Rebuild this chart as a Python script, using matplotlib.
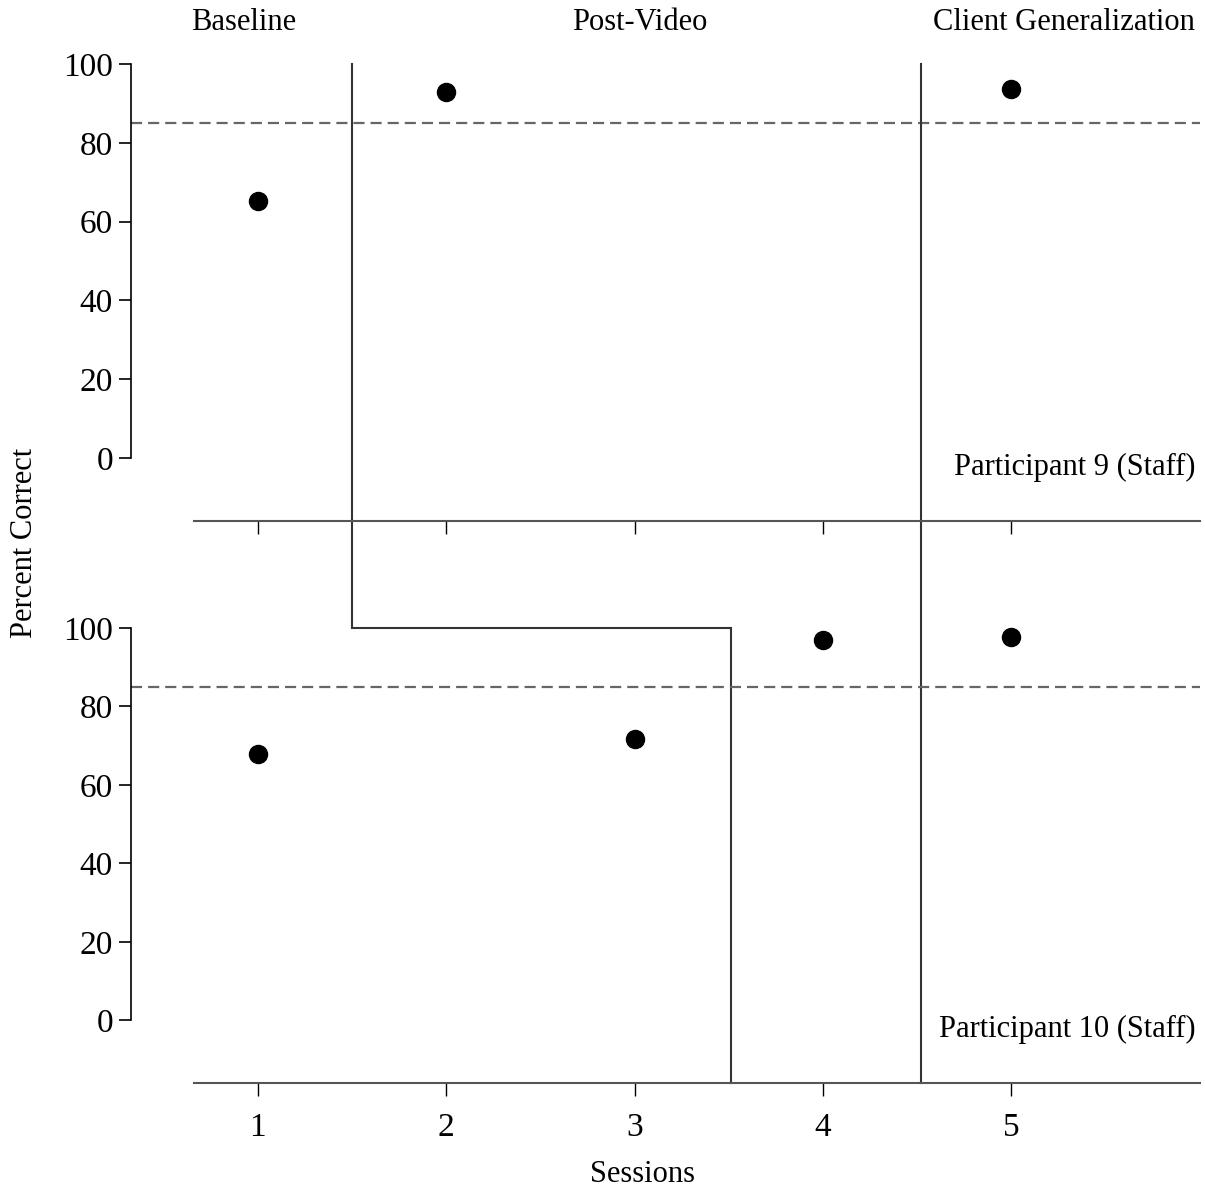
import matplotlib
matplotlib.use("Agg")
import matplotlib.pyplot as plt

plt.rcParams['font.family'] = ['Liberation Serif', 'DejaVu Serif']

# Data
sessions_p9 = [1, 2, 5]
values_p9 = [65.2, 92.9, 93.7]
sessions_p10 = [1, 3, 4, 5]
values_p10 = [67.9, 71.8, 96.9, 97.7]
x_ticks = [1, 2, 3, 4, 5]
y_ticks = [0, 20, 40, 60, 80, 100]
criterion = 85
phase_labels = ["Baseline", "Post-Video", "Client Generalization"]
panel_labels = ["Participant 9 (Staff)", "Participant 10 (Staff)"]
phase_change_1 = 1.5
phase_change_1b = 3.51
phase_change_2 = 4.52

W, H = 1205, 1194
fig = plt.figure(figsize=(W / 100, H / 100), dpi=100)

xlim = (0.326, 6.003)
ylim = (-16, 100)
left = 131 / W
width = (1200 - 131) / W
ax1 = fig.add_axes([left, 1 - 521 / H, width, (521 - 64) / H])
ax2 = fig.add_axes([left, 1 - 1083 / H, width, (1083 - 628) / H])

line_gray = '#555555'
phase_col = '#333333'

for ax, xs, ys, lab in [(ax1, sessions_p9, values_p9, panel_labels[0]),
                        (ax2, sessions_p10, values_p10, panel_labels[1])]:
    ax.set_xlim(*xlim)
    ax.set_ylim(*ylim)
    ax.spines['top'].set_visible(False)
    ax.spines['right'].set_visible(False)
    ax.spines['left'].set_bounds(0, 100)
    ax.spines['bottom'].set_bounds(0.66, 6.003)
    ax.spines['left'].set_linewidth(1.2)
    ax.spines['bottom'].set_linewidth(1.5)
    ax.spines['bottom'].set_color(line_gray)
    ax.set_yticks(y_ticks)
    ax.set_xticks(x_ticks)
    ax.tick_params(axis='y', direction='out', length=9, width=1.2, labelsize=24, pad=4)
    ax.tick_params(axis='x', direction='out', length=9, width=1.0, labelsize=24, pad=12)
    ax.axhline(criterion, xmin=0, xmax=1, color='#666666', lw=1.6, ls=(0, (5, 2.7)), zorder=1)
    ax.plot(xs, ys, 'o', color='black', markersize=13, zorder=5, clip_on=False)
    ax.text(5.98, -6, lab, ha='right', va='bottom', fontsize=22)
    ax.patch.set_visible(False)

ax1.tick_params(axis='x', labelbottom=False)


def to_ax1_y(y_ax2):
    disp = ax2.transData.transform((1.0, y_ax2))
    return ax1.transData.inverted().transform(disp)[1]


y2_top = to_ax1_y(ylim[1])
y2_bot = to_ax1_y(ylim[0])

# Phase change lines (drawn as continuous lines through both panels)
ax1.plot([phase_change_1, phase_change_1, phase_change_1b, phase_change_1b],
         [ylim[1], y2_top, y2_top, y2_bot],
         color=phase_col, lw=1.5, clip_on=False, solid_joinstyle='miter')
ax1.plot([phase_change_2, phase_change_2], [ylim[1], y2_bot],
         color=phase_col, lw=1.5, clip_on=False)

# Phase labels
fig.text(244 / W, 1 - 23 / H, phase_labels[0], ha='center', va='center', fontsize=22)
fig.text(640 / W, 1 - 23 / H, phase_labels[1], ha='center', va='center', fontsize=22)
fig.text(1195 / W, 1 - 23 / H, phase_labels[2], ha='right', va='center', fontsize=22)

fig.text(25 / W, 1 - 543 / H, "Percent Correct", rotation=90, ha='center', va='center', fontsize=22)
fig.text(643 / W, 1 - 1175 / H, "Sessions", ha='center', va='center', fontsize=22)

fig.savefig("out.png", dpi=100, facecolor='white')
